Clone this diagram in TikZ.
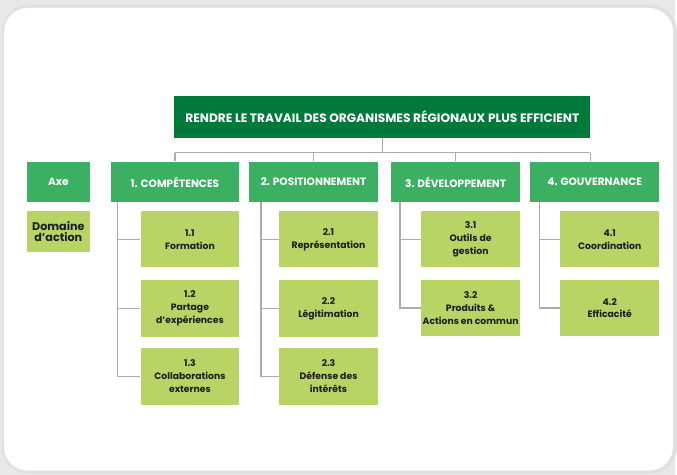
\documentclass[tikz,border=0pt]{standalone}
\usepackage{fontspec}
\setmainfont{Poppins}
\usepackage{tikz}
\usetikzlibrary{positioning}

\definecolor{darkgreen}{HTML}{007A3B}
\definecolor{axegreen}{HTML}{3BAF62}
\definecolor{leafgreen}{HTML}{B8D464}
\definecolor{linkgray}{HTML}{ABABAB}
\definecolor{textdark}{HTML}{1E1E1E}

\tikzset{
    titlebox/.style={fill=darkgreen, text=white, inner sep=0pt,
        minimum width=417pt, minimum height=42pt,
        font=\bfseries\fontsize{12.2}{14}\selectfont},
    axebox/.style={fill=axegreen, text=white, inner sep=0pt,
        minimum width=129pt, minimum height=41pt,
        font=\bfseries\fontsize{10.6}{12}\selectfont},
    leafbox/.style={fill=leafgreen, text=textdark, inner sep=0pt, align=center,
        minimum width=99pt, minimum height=56.5pt,
        font=\bfseries\fontsize{9.3}{13}\selectfont},
    link/.style={draw=linkgray, line width=1.5pt}
}

\begin{document}
\begin{tikzpicture}[x=1pt, y=-1pt]
    % page and card
    \fill[black!9] (0,0) rectangle (677,476);
    \fill[black!12, rounded corners=26pt] (2,5) rectangle (679,475);
    \fill[white, rounded corners=24pt] (4,8) rectangle (675,472);
    \useasboundingbox (0,0) rectangle (677,476);

    % title
    \node[titlebox] (title) at (383.5,117) {RENDRE LE TRAVAIL DES ORGANISMES RÉGIONAUX PLUS EFFICIENT};

    % axes
    \node[axebox, minimum width=63pt] (axe) at (58.5,182.5) {Axe};
    \node[leafbox, minimum width=63pt, minimum height=41pt,
          font=\bfseries\fontsize{11.2}{11.5}\selectfont] (domaine) at (58.5,232.5) {Domaine\\d’action};
    \node[axebox] (h1) at (175.5,182.5) {1. COMPÉTENCES};
    \node[axebox] (h2) at (314.5,182.5) {2. POSITIONNEMENT};
    \node[axebox] (h3) at (457,182.5) {3. DÉVELOPPEMENT};
    \node[axebox] (h4) at (596.5,182.5) {4. GOUVERNANCE};

    % domaines d'action
    \node[leafbox] (s11) at (190.5,240) {1.1\\Formation};
    \node[leafbox] (s12) at (190.5,309.5) {1.2\\Partage\\d’expériences};
    \node[leafbox] (s13) at (190.5,377.5) {1.3\\Collaborations\\externes};
    \node[leafbox] (s21) at (329.5,240) {2.1\\Représentation};
    \node[leafbox] (s22) at (329.5,309.5) {2.2\\Légitimation};
    \node[leafbox] (s23) at (329.5,377.5) {2.3\\Défense des\\intérêts};
    \node[leafbox] (s31) at (472,240) {3.1\\Outils de\\gestion};
    \node[leafbox] (s32) at (472,309) {3.2\\Produits \&\\Actions en commun};
    \node[leafbox] (s41) at (611.5,240) {4.1\\Coordination};
    \node[leafbox] (s42) at (611.5,309) {4.2\\Efficacité};

    % links title -> axes
    \coordinate (barl) at (175.5,153);
    \coordinate (barr) at (592,153);
    \draw[link] (title.south) -- (title.south |- barl);
    \draw[link] (barl) -- (barr);
    \draw[link] (barl) -- (h1.north);
    \draw[link] (h2.north |- barl) -- (h2.north);
    \draw[link] (h3.north |- barl) -- (h3.north);
    \draw[link] (barr) -- (barr |- h4.north);

    % links axes -> domaines
    \coordinate (v1) at (118,203);
    \coordinate (v2) at (262,203);
    \coordinate (v3) at (401,203);
    \coordinate (v4) at (541,203);
    \draw[link] (v1) |- (s13.west);
    \draw[link] (v1 |- s11.west) -- (s11.west);
    \draw[link] (v1 |- s12.west) -- (s12.west);
    \draw[link] (v2) |- (s23.west);
    \draw[link] (v2 |- s21.west) -- (s21.west);
    \draw[link] (v2 |- s22.west) -- (s22.west);
    \draw[link] (v3) |- (s32.west);
    \draw[link] (v3 |- s31.west) -- (s31.west);
    \draw[link] (v4) |- (s42.west);
    \draw[link] (v4 |- s41.west) -- (s41.west);
\end{tikzpicture}
\end{document}
